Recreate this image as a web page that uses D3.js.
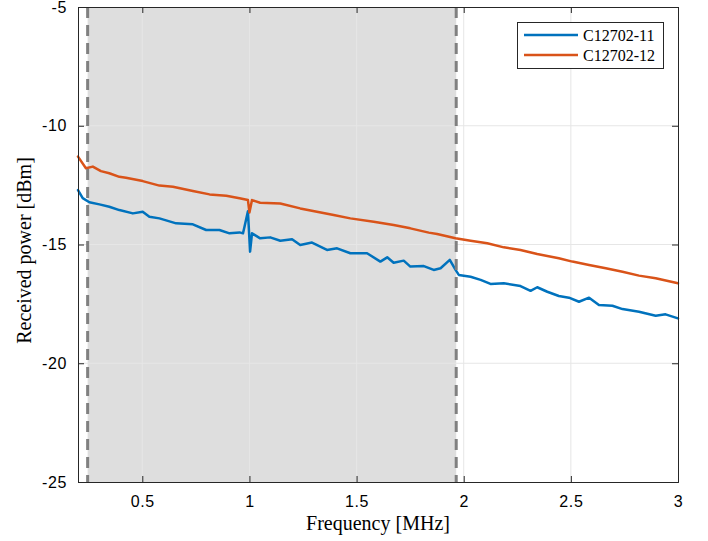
<!DOCTYPE html>
<html>
<head>
<meta charset="utf-8">
<script src="https://cdn.jsdelivr.net/npm/d3@7"></script>
<style>
  html, body { margin: 0; padding: 0; background: #fff; }
  svg { display: block; }
</style>
</head>
<body>
<svg id="chart" width="708" height="541"></svg>
<script>
// ---- Data ----
const seriesNames = ["C12702-11", "C12702-12"];
const seriesColors = ["#0072BD", "#D95319"];

// C12702-11 (blue)
const freq11 = [0.200, 0.222, 0.253, 0.300, 0.346, 0.393, 0.456, 0.502, 0.533, 0.580,
  0.658, 0.736, 0.798, 0.860, 0.907, 0.954, 0.970, 0.977, 0.993, 1.003, 1.012,
  1.050, 1.097, 1.144, 1.199, 1.237, 1.292, 1.362, 1.409, 1.471, 1.549, 1.611,
  1.643, 1.673, 1.720, 1.751, 1.814, 1.860, 1.892, 1.935, 1.962, 1.977, 2.032,
  2.079, 2.125, 2.187, 2.265, 2.312, 2.343, 2.390, 2.444, 2.491, 2.538, 2.585,
  2.631, 2.694, 2.741, 2.818, 2.896, 2.942, 3.000];
const power11 = [-12.71, -13.05, -13.22, -13.31, -13.41, -13.55, -13.69, -13.62, -13.83, -13.90,
  -14.11, -14.15, -14.39, -14.39, -14.53, -14.49, -14.53, -14.25, -13.60, -15.30, -14.53,
  -14.74, -14.70, -14.84, -14.78, -15.02, -14.92, -15.23, -15.16, -15.37, -15.37, -15.72,
  -15.54, -15.77, -15.68, -15.93, -15.91, -16.07, -16.00, -15.65, -16.07, -16.28, -16.36,
  -16.49, -16.66, -16.63, -16.75, -16.95, -16.80, -16.99, -17.17, -17.24, -17.41, -17.24,
  -17.55, -17.58, -17.72, -17.83, -18.00, -17.94, -18.11];

// C12702-12 (orange)
const freq12 = [0.200, 0.237, 0.269, 0.307, 0.346, 0.393, 0.424, 0.502, 0.580, 0.643,
  0.736, 0.814, 0.892, 0.954, 0.993, 1.000, 1.012, 1.050, 1.144, 1.237, 1.315,
  1.393, 1.471, 1.580, 1.673, 1.751, 1.837, 1.876, 1.962, 2.032, 2.110, 2.187,
  2.265, 2.343, 2.444, 2.507, 2.585, 2.663, 2.741, 2.818, 2.896, 3.000];
const power12 = [-11.30, -11.79, -11.72, -11.91, -12.00, -12.15, -12.19, -12.33, -12.52, -12.57,
  -12.75, -12.89, -12.95, -13.05, -13.13, -13.65, -13.13, -13.24, -13.27, -13.48, -13.62,
  -13.76, -13.90, -14.04, -14.18, -14.32, -14.50, -14.56, -14.74, -14.84, -14.95, -15.12,
  -15.23, -15.40, -15.58, -15.72, -15.86, -16.00, -16.15, -16.31, -16.42, -16.63];

const xTicks = [0.5, 1, 1.5, 2, 2.5, 3];
const xTickLabels = ["0.5", "1", "1.5", "2", "2.5", "3"];
const yTicks = [-25, -20, -15, -10, -5];
const yTickLabels = ["-25", "-20", "-15", "-10", "-5"];
const xDomain = [0.2, 3];
const yDomain = [-25, -5];
const bandEdges = [0.245, 1.965];   // shaded band / dashed lines

// ---- Layout ----
const svg = d3.select("#chart");
const L = 78, R = 678, T = 7, B = 482;
const x = d3.scaleLinear().domain(xDomain).range([L, R]);
const y = d3.scaleLinear().domain(yDomain).range([B, T]);
const axisColor = "#262626";
const tickFont = "'Liberation Sans', Arial, Helvetica, sans-serif";
const serifFont = "'Liberation Serif', 'Times New Roman', serif";

// background
svg.append("rect").attr("x", L).attr("y", T).attr("width", R - L).attr("height", B - T).attr("fill", "#fff");

// shaded band
svg.append("rect")
  .attr("x", x(bandEdges[0])).attr("y", T)
  .attr("width", x(bandEdges[1]) - x(bandEdges[0]))
  .attr("height", B - T)
  .attr("fill", "#dedede");

// grid
const grid = svg.append("g");
xTicks.filter(d => d < xDomain[1]).forEach(d => {
  grid.append("line").attr("x1", x(d)).attr("x2", x(d)).attr("y1", T).attr("y2", B)
    .attr("stroke", "#e6e6e6").attr("stroke-width", 1);
});
yTicks.filter(d => d > yDomain[0] && d < yDomain[1]).forEach(d => {
  grid.append("line").attr("x1", L).attr("x2", R).attr("y1", y(d)).attr("y2", y(d))
    .attr("stroke", "#e6e6e6").attr("stroke-width", 1);
});

// lines
const line = d3.line().x(d => x(d[0])).y(d => y(d[1]));
const series = [
  d3.zip(freq11, power11),
  d3.zip(freq12, power12)
];
series.forEach((s, i) => {
  svg.append("path").datum(s).attr("d", line)
    .attr("fill", "none").attr("stroke", seriesColors[i])
    .attr("stroke-width", 2.5).attr("stroke-linejoin", "round").attr("stroke-linecap", "round");
});

// dashed band edges
bandEdges.forEach(f => {
  svg.append("line").attr("x1", x(f)).attr("x2", x(f)).attr("y1", T).attr("y2", B)
    .attr("stroke", "#808080").attr("stroke-width", 3).attr("stroke-dasharray", "11,7");
});

// axes
const xAxisB = d3.axisBottom(x).tickValues(xTicks).tickSize(-6).tickPadding(14)
  .tickFormat((d, i) => xTickLabels[i]);
const xAxisT = d3.axisTop(x).tickValues(xTicks).tickSize(-6).tickFormat("");
const yAxisL = d3.axisLeft(y).tickValues(yTicks).tickSize(-6).tickPadding(11)
  .tickFormat((d, i) => yTickLabels[i]);
const yAxisR = d3.axisRight(y).tickValues(yTicks).tickSize(-6).tickFormat("");

function styleAxis(g) {
  g.select(".domain").attr("stroke", axisColor).attr("stroke-width", 1);
  g.selectAll(".tick line").attr("stroke", axisColor).attr("stroke-width", 1);
  g.selectAll(".tick text").attr("fill", "#000").style("font-family", tickFont)
    .style("font-size", "16px").style("letter-spacing", "0.6px");
}
svg.append("g").attr("transform", `translate(0,${B})`).call(xAxisB).call(styleAxis);
svg.append("g").attr("transform", `translate(0,${T})`).call(xAxisT).call(styleAxis);
svg.append("g").attr("transform", `translate(${L},0)`).call(yAxisL).call(styleAxis);
svg.append("g").attr("transform", `translate(${R},0)`).call(yAxisR).call(styleAxis);

// axis labels
svg.append("text").attr("x", (L + R) / 2).attr("y", 530).attr("text-anchor", "middle")
  .style("font-family", serifFont).style("font-size", "20px").attr("fill", "#000")
  .text("Frequency [MHz]");
svg.append("text").attr("transform", `translate(31,${(T + B) / 2 + 6}) rotate(-90)`).attr("text-anchor", "middle")
  .style("font-family", serifFont).style("font-size", "20px").attr("fill", "#000")
  .text("Received power [dBm]");

// legend
const lg = svg.append("g");
lg.append("rect").attr("x", 517.5).attr("y", 22.5).attr("width", 146).attr("height", 46)
  .attr("fill", "#fff").attr("stroke", axisColor).attr("stroke-width", 1);
seriesNames.forEach((n, i) => {
  const yy = 35 + i * 20;
  lg.append("line").attr("x1", 524).attr("x2", 578).attr("y1", yy).attr("y2", yy)
    .attr("stroke", seriesColors[i]).attr("stroke-width", 2.5);
  lg.append("text").attr("x", 583).attr("y", yy).attr("dy", "0.35em")
    .style("font-family", serifFont).style("font-size", "16px").attr("fill", "#000").text(n);
});
</script>
</body>
</html>
